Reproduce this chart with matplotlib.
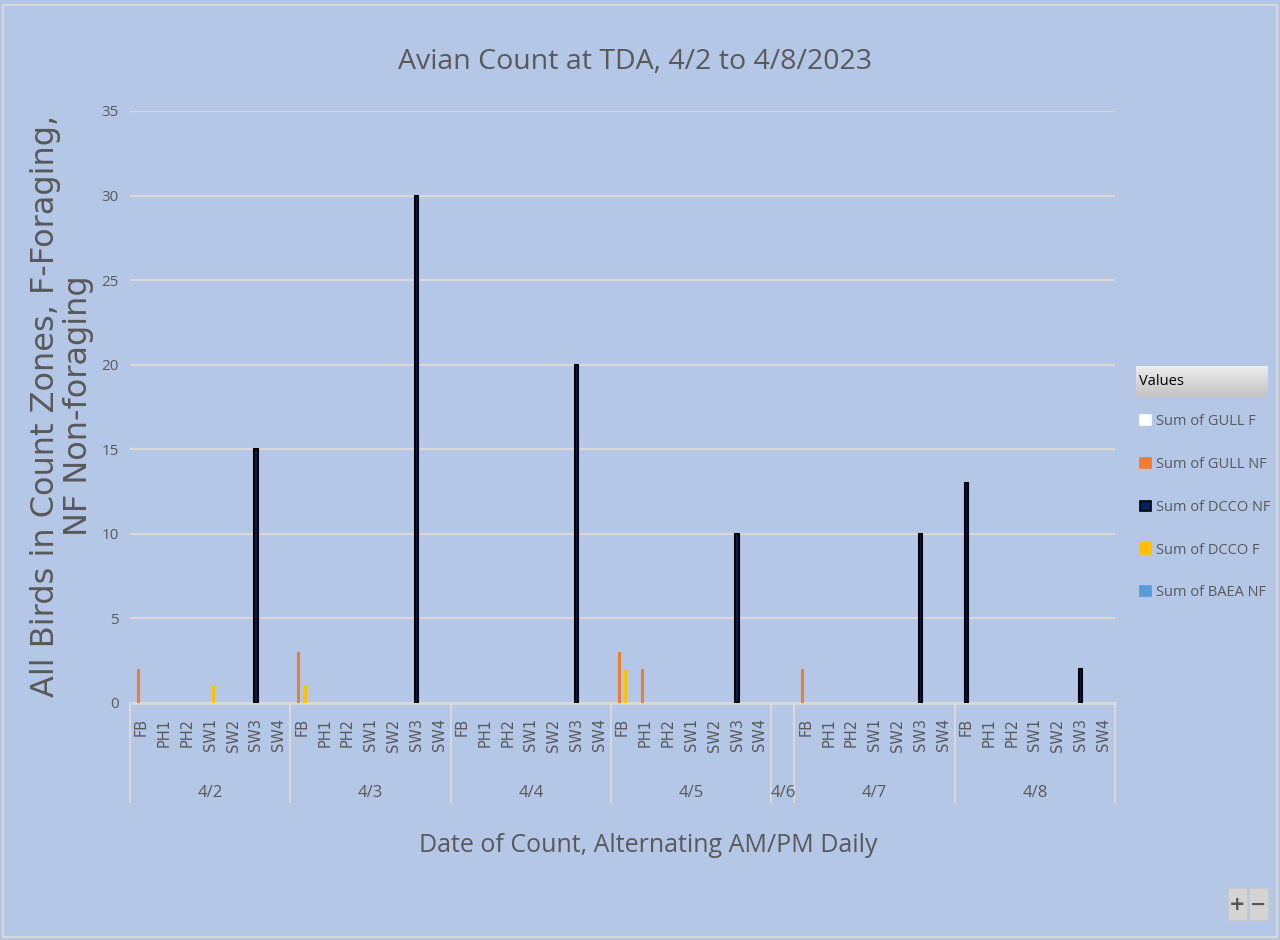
import matplotlib
matplotlib.use("Agg")
import matplotlib.pyplot as plt
from matplotlib.patches import Patch, Rectangle
import numpy as np

# ---- data ----
dates = ['4/2', '4/3', '4/4', '4/5', '4/6', '4/7', '4/8']
zones_full = ['FB', 'PH1', 'PH2', 'SW1', 'SW2', 'SW3', 'SW4']
zones_by_date = [zones_full, zones_full, zones_full, zones_full, [''], zones_full, zones_full]

series_names = ['Sum of GULL F', 'Sum of GULL NF', 'Sum of DCCO NF', 'Sum of DCCO F', 'Sum of BAEA NF']

gull_f = [0, 0, 0, 0, 0, 0, 0,
          0, 0, 0, 0, 0, 0, 0,
          0, 0, 0, 0, 0, 0, 0,
          0, 0, 0, 0, 0, 0, 0,
          0,
          0, 0, 0, 0, 0, 0, 0,
          0, 0, 0, 0, 0, 0, 0]
gull_nf = [2, 0, 0, 0, 0, 0, 0,
           3, 0, 0, 0, 0, 0, 0,
           0, 0, 0, 0, 0, 0, 0,
           3, 2, 0, 0, 0, 0, 0,
           0,
           2, 0, 0, 0, 0, 0, 0,
           0, 0, 0, 0, 0, 0, 0]
dcco_nf = [0, 0, 0, 0, 0, 15, 0,
           0, 0, 0, 0, 0, 30, 0,
           0, 0, 0, 0, 0, 20, 0,
           0, 0, 0, 0, 0, 10, 0,
           0,
           0, 0, 0, 0, 0, 10, 0,
           13, 0, 0, 0, 0, 2, 0]
dcco_f = [0, 0, 0, 1, 0, 0, 0,
          1, 0, 0, 0, 0, 0, 0,
          0, 0, 0, 0, 0, 0, 0,
          2, 0, 0, 0, 0, 0, 0,
          0,
          0, 0, 0, 0, 0, 0, 0,
          0, 0, 0, 0, 0, 0, 0]
baea_nf = [0, 0, 0, 0, 0, 0, 0,
           0, 0, 0, 0, 0, 0, 0,
           0, 0, 0, 0, 0, 0, 0,
           0, 0, 0, 0, 0, 0, 0,
           0,
           0, 0, 0, 0, 0, 0, 0,
           0, 0, 0, 0, 0, 0, 0]

colors = ['#FFFFFF', '#ED7D31', '#002060', '#FFC000', '#5B9BD5']
edges = ['none', 'none', '#000000', 'none', 'none']

BG = '#B4C7E7'
TXT = '#595959'
GRID = '#D9D9D9'
NARROW = ['Open Sans', 'DejaVu Sans']

fig = plt.figure(figsize=(12.8, 9.4), dpi=100, facecolor=BG)
W, H = 1280, 940
ax = fig.add_axes([130 / W, 1 - 703 / H, (1115 - 130) / W, (703 - 111) / H])
ax.set_facecolor(BG)

categories = [z for zl in zones_by_date for z in zl]
n = len(categories)
x = np.arange(n) + 0.5
bw = 0.14
all_series = [gull_f, gull_nf, dcco_nf, dcco_f, baea_nf]
for i, vals in enumerate(all_series):
    off = (i - 2) * bw
    ec = [edges[i] if v > 0 else 'none' for v in vals]
    ax.bar(x + off, vals, width=bw, color=colors[i], edgecolor=ec,
           linewidth=1.5, zorder=3)

ax.set_xlim(0, n)
ax.set_ylim(0, 35)
ax.set_yticks(np.arange(0, 36, 5))
ax.yaxis.grid(True, color=GRID, linewidth=1.6, zorder=0)
ax.set_axisbelow(True)
for s in ['left', 'right', 'top']:
    ax.spines[s].set_visible(False)
ax.spines['bottom'].set_color(GRID)
ax.spines['bottom'].set_linewidth(2)
ax.tick_params(axis='y', length=0, pad=8, labelsize=11, labelcolor=TXT)
for lbl in ax.get_yticklabels():
    lbl.set_family(NARROW)

ax.set_xticks(x)
ax.set_xticklabels(categories, rotation=90, fontsize=10.5, color=TXT,
                   family='DejaVu Sans')
ax.tick_params(axis='x', length=0, pad=11)

# second level: dates
bounds = [0]
for zl in zones_by_date:
    bounds.append(bounds[-1] + len(zl))
centers = [(bounds[i] + bounds[i + 1]) / 2 for i in range(len(dates))]
sec = ax.secondary_xaxis('bottom')
sec.spines['bottom'].set_visible(False)
sec.set_xticks(bounds)
sec.set_xticklabels([''] * len(bounds))
sec.tick_params(axis='x', which='major', length=72, width=1.5, color=GRID, direction='out')
sec.set_xticks(centers, minor=True)
sec.set_xticklabels(dates, minor=True, fontsize=12, color=TXT, family=NARROW)
sec.tick_params(axis='x', which='minor', length=0, pad=59)

fig.text(635 / W, 1 - 62 / H, 'Avian Count at TDA, 4/2 to 4/8/2023', ha='center', va='center',
         fontsize=20.5, color=TXT, family=NARROW)
fig.text(648 / W, 1 - 845 / H, 'Date of Count, Alternating AM/PM Daily', ha='center', va='center',
         fontsize=18, color=TXT, family=NARROW)
fig.text(62 / W, 1 - 406 / H, 'All Birds in Count Zones, F-Foraging,\nNF Non-foraging',
         ha='center', va='center', rotation=90, fontsize=23, color=TXT,
         family='DejaVu Sans', multialignment='center', linespacing=1.08)

# legend header
hax = fig.add_axes([1136 / W, 1 - 397 / H, (1268 - 1136) / W, (397 - 366) / H])
grad = np.linspace(0, 1, 50).reshape(-1, 1)
hax.imshow(grad, aspect='auto', cmap=matplotlib.colors.LinearSegmentedColormap.from_list(
    'g', ['#EDEDED', '#C3C3C3']), extent=[0, 1, 0, 1])
hax.set_axis_off()
hax.text(0.02, 0.5, 'Values', ha='left', va='center', fontsize=10.5, color='#000000',
         family=NARROW, transform=hax.transAxes)

handles = [Patch(facecolor=colors[i], edgecolor=(edges[i] if edges[i] != 'none' else colors[i]),
                 linewidth=1.2) for i in range(5)]
fig.legend(handles, series_names, loc='upper left',
           bbox_to_anchor=(1136 / W, 1 - 410 / H), frameon=False,
           labelcolor=TXT, prop={'family': NARROW, 'size': 10.5},
           handlelength=0.7, handleheight=0.7, handletextpad=0.35, labelspacing=1.9,
           borderaxespad=0, borderpad=0.3)

# zoom buttons
for bx, sym in [(1228, '+'), (1249, '−')]:
    fig.patches.append(Rectangle((bx / W, 1 - 920 / H), 19 / W, 32 / H, transform=fig.transFigure,
                                 facecolor='#D4D4D4', edgecolor='#C8C8C8', linewidth=0.8))
    fig.text((bx + 9.5) / W, 1 - 904 / H, sym, ha='center', va='center', fontsize=14,
             color='#555555', fontweight='bold')

# border
fig.patches.append(Rectangle((3 / W, 3 / H), 1274 / W, 932 / H, transform=fig.transFigure,
                             facecolor='none', edgecolor=GRID, linewidth=1.5))

fig.savefig('out.png', dpi=100, facecolor=BG)
